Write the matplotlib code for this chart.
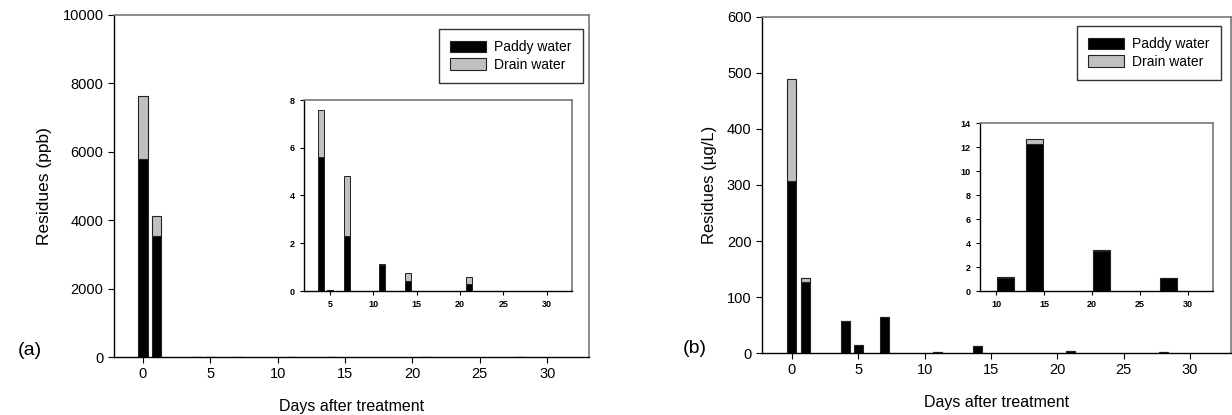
import numpy as np
import matplotlib.pyplot as plt

plt.rcParams['font.family'] = ['Liberation Sans', 'DejaVu Sans']

# (a) residues in ppb
days_a = [0, 1, 4, 5, 7, 11, 14, 21, 28]
paddy_a = [5780, 3550, 5.6, 0.03, 2.3, 1.1, 0.4, 0.3, 0.0]
drain_a = [1840, 580, 2.0, 0.0, 2.5, 0.05, 0.35, 0.3, 0.02]

# (b) residues in ug/L
days_b = [0, 1, 4, 5, 7, 11, 14, 21, 28]
paddy_b = [308, 127, 57, 15, 64, 1.05, 12.25, 3.3, 1.1]
drain_b = [182, 7, 0, 0, 0, 0.1, 0.45, 0.15, 0.0]

W, H = 1232, 415
fig = plt.figure(figsize=(W / 100, H / 100), dpi=100)


def box(x0, y0, x1, y1):
    return [x0 / W, 1 - y1 / H, (x1 - x0) / W, (y1 - y0) / H]


def bars(ax, d, p, dr, width, lw=0.8):
    d = np.array(d)
    p = np.array(p)
    dr = np.array(dr)
    ax.bar(d, p, width=width, color='black', edgecolor='#222222', linewidth=lw,
           label='Paddy water')
    ax.bar(d, dr, bottom=p, width=width, color='#c0c0c0', edgecolor='#222222',
           linewidth=lw, label='Drain water')


def style(ax, size, bold=False, ticklen=4):
    for s in ['top', 'right']:
        ax.spines[s].set_color('#777777')
        ax.spines[s].set_linewidth(1.2)
    for s in ['left', 'bottom']:
        ax.spines[s].set_color('black')
        ax.spines[s].set_linewidth(1.0)
    ax.tick_params(direction='out', length=ticklen, width=0.8, labelsize=size,
                   top=False, right=False)
    if bold:
        for t in ax.get_xticklabels() + ax.get_yticklabels():
            t.set_fontweight('bold')


def legend(ax, x, y):
    ax.legend(loc='upper right', bbox_to_anchor=(x / W, 1 - y / H),
              bbox_transform=fig.transFigure, borderaxespad=0, fancybox=False,
              framealpha=1, edgecolor='#333333', fontsize=10,
              handlelength=2.6, handleheight=0.9, borderpad=0.8,
              labelspacing=0.25, handletextpad=0.6)


# ---- panel (a)
ax1 = fig.add_axes(box(114, 15, 589, 357))
bars(ax1, days_a, paddy_a, drain_a, 0.68)
ax1.set_xlim(-2.15, 33.1)
ax1.set_ylim(0, 10000)
ax1.set_xticks(range(0, 31, 5))
ax1.set_yticks(range(0, 10001, 2000))
style(ax1, 10.5)
ax1.set_ylabel('Residues (ppb)', fontsize=12.5)
ax1.yaxis.set_label_coords(-0.13, 0.5)
ax1.set_xlabel('Days after treatment', fontsize=11.5, labelpad=13)
legend(ax1, 583, 29)
fig.text(18 / W, 1 - 350 / H, '(a)', fontsize=14, va='center', ha='left')

ins1 = fig.add_axes(box(304, 100, 572, 291))
bars(ins1, days_a[2:], paddy_a[2:], drain_a[2:], 0.68, lw=0.7)
ins1.set_xlim(2.0, 32.9)
ins1.set_ylim(0, 8)
ins1.set_xticks(range(5, 31, 5))
ins1.set_yticks(range(0, 9, 2))
style(ins1, 6.5, bold=True, ticklen=3)

# ---- panel (b)
ax2 = fig.add_axes(box(762, 17, 1231, 353))
bars(ax2, days_b, paddy_b, drain_b, 0.68)
ax2.set_xlim(-2.26, 33.1)
ax2.set_ylim(0, 600)
ax2.set_xticks(range(0, 31, 5))
ax2.set_yticks(range(0, 601, 100))
style(ax2, 10.5)
ax2.set_ylabel('Residues (\u00b5g/L)', fontsize=12)
ax2.yaxis.set_label_coords(-0.097, 0.5)
ax2.set_xlabel('Days after treatment', fontsize=11.5, labelpad=13)
legend(ax2, 1221, 26)
fig.text(683 / W, 1 - 348 / H, '(b)', fontsize=14, va='center', ha='left')

ins2 = fig.add_axes(box(980, 123, 1213, 291))
bars(ins2, days_b[5:], paddy_b[5:], drain_b[5:], 1.8, lw=0.8)
ins2.set_xlim(8.33, 32.6)
ins2.set_ylim(0, 14)
ins2.set_xticks(range(10, 31, 5))
ins2.set_yticks(range(0, 15, 2))
style(ins2, 6.5, bold=True, ticklen=3)

fig.savefig('out.png', dpi=100)
